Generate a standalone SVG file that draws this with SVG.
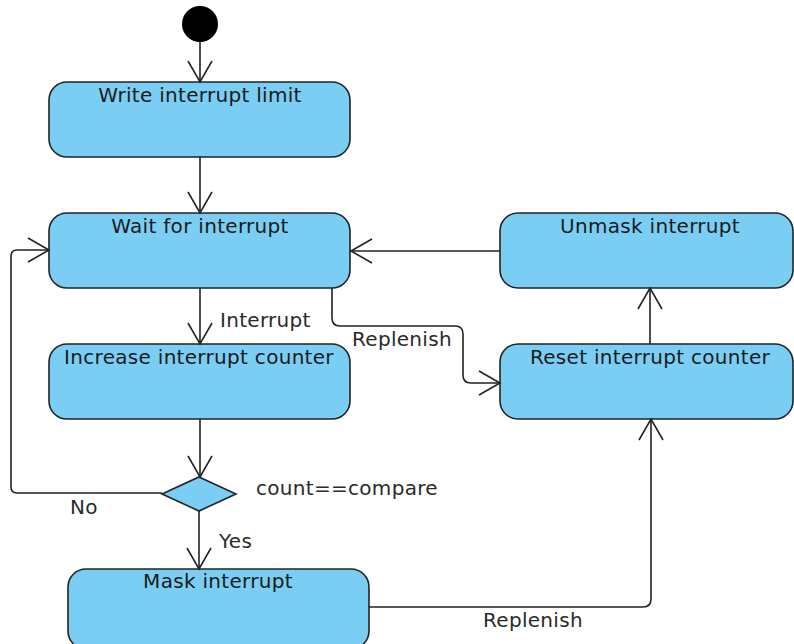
<svg xmlns="http://www.w3.org/2000/svg" width="794" height="644" viewBox="0 0 794 644">
  <defs>
    <style>
      .node rect, .node polygon { fill: #7ACEF4; stroke: #222; stroke-width: 1.6; }
      .node text { font-family: "DejaVu Sans", "Liberation Sans", sans-serif; font-size: 20px; letter-spacing: 0.3px; fill: #1a1a1a; text-anchor: middle; }
      .edges path { fill: none; stroke: #222; stroke-width: 1.6; marker-end: url(#open); }
      .lbl { font-family: "DejaVu Sans", "Liberation Sans", sans-serif; font-size: 20px; letter-spacing: 0.3px; fill: #2a2a2a; }
    </style>
    <marker id="open" markerUnits="userSpaceOnUse" viewBox="-24 -14 26 28" refX="0" refY="0" markerWidth="26" markerHeight="28" orient="auto">
      <path d="M-21,-12 L0,0 L-21,12" fill="none" stroke="#222" stroke-width="1.6"/>
    </marker>
  </defs>
  <rect width="794" height="644" fill="#fff"/>

  <g id="start">
    <circle cx="200" cy="24" r="18" fill="#000"/>
  </g>

  <g id="write-limit" class="node">
    <rect x="49" y="82" width="301" height="75" rx="18"/>
    <text x="200" y="102">Write interrupt limit</text>
  </g>

  <g id="wait" class="node">
    <rect x="49" y="213" width="301" height="75" rx="18"/>
    <text x="200" y="233">Wait for interrupt</text>
  </g>

  <g id="increase" class="node">
    <rect x="49" y="344" width="301" height="75" rx="18"/>
    <text x="199" y="364">Increase interrupt counter</text>
  </g>

  <g id="unmask" class="node">
    <rect x="500" y="213" width="293" height="75" rx="18"/>
    <text x="650" y="233">Unmask interrupt</text>
  </g>

  <g id="reset" class="node">
    <rect x="500" y="344" width="293" height="75" rx="18"/>
    <text x="650" y="364">Reset interrupt counter</text>
  </g>

  <g id="decision" class="node">
    <polygon points="199,477 236,494 199,511 162,494"/>
  </g>

  <g id="mask" class="node">
    <rect x="68" y="569" width="301" height="80" rx="18"/>
    <text x="218" y="588">Mask interrupt</text>
  </g>

  <g id="connectors" class="edges">
    <path d="M200,42 L200,82"/>
    <path d="M200,157 L200,213"/>
    <path d="M200,288 L200,344"/>
    <path d="M200,419 L200,477"/>
    <path d="M199,511 L199,569"/>
    <path d="M162,493 L17,493 Q11,493 11,487 L11,256 Q11,250 17,250 L49,250"/>
    <path d="M332,288 L332,318 Q332,326 340,326 L455,326 Q463,326 463,334 L463,375 Q463,383 471,383 L500,383"/>
    <path d="M500,251 L351,251"/>
    <path d="M650,344 L650,288"/>
    <path d="M369,607 L643,607 Q651,607 651,599 L651,419"/>
  </g>

  <g id="labels">
    <text class="lbl" x="220" y="327">Interrupt</text>
    <text class="lbl" x="352" y="346">Replenish</text>
    <text class="lbl" x="256" y="495">count==compare</text>
    <text class="lbl" x="70" y="514">No</text>
    <text class="lbl" x="219" y="548">Yes</text>
    <text class="lbl" x="483" y="627">Replenish</text>
  </g>
</svg>
